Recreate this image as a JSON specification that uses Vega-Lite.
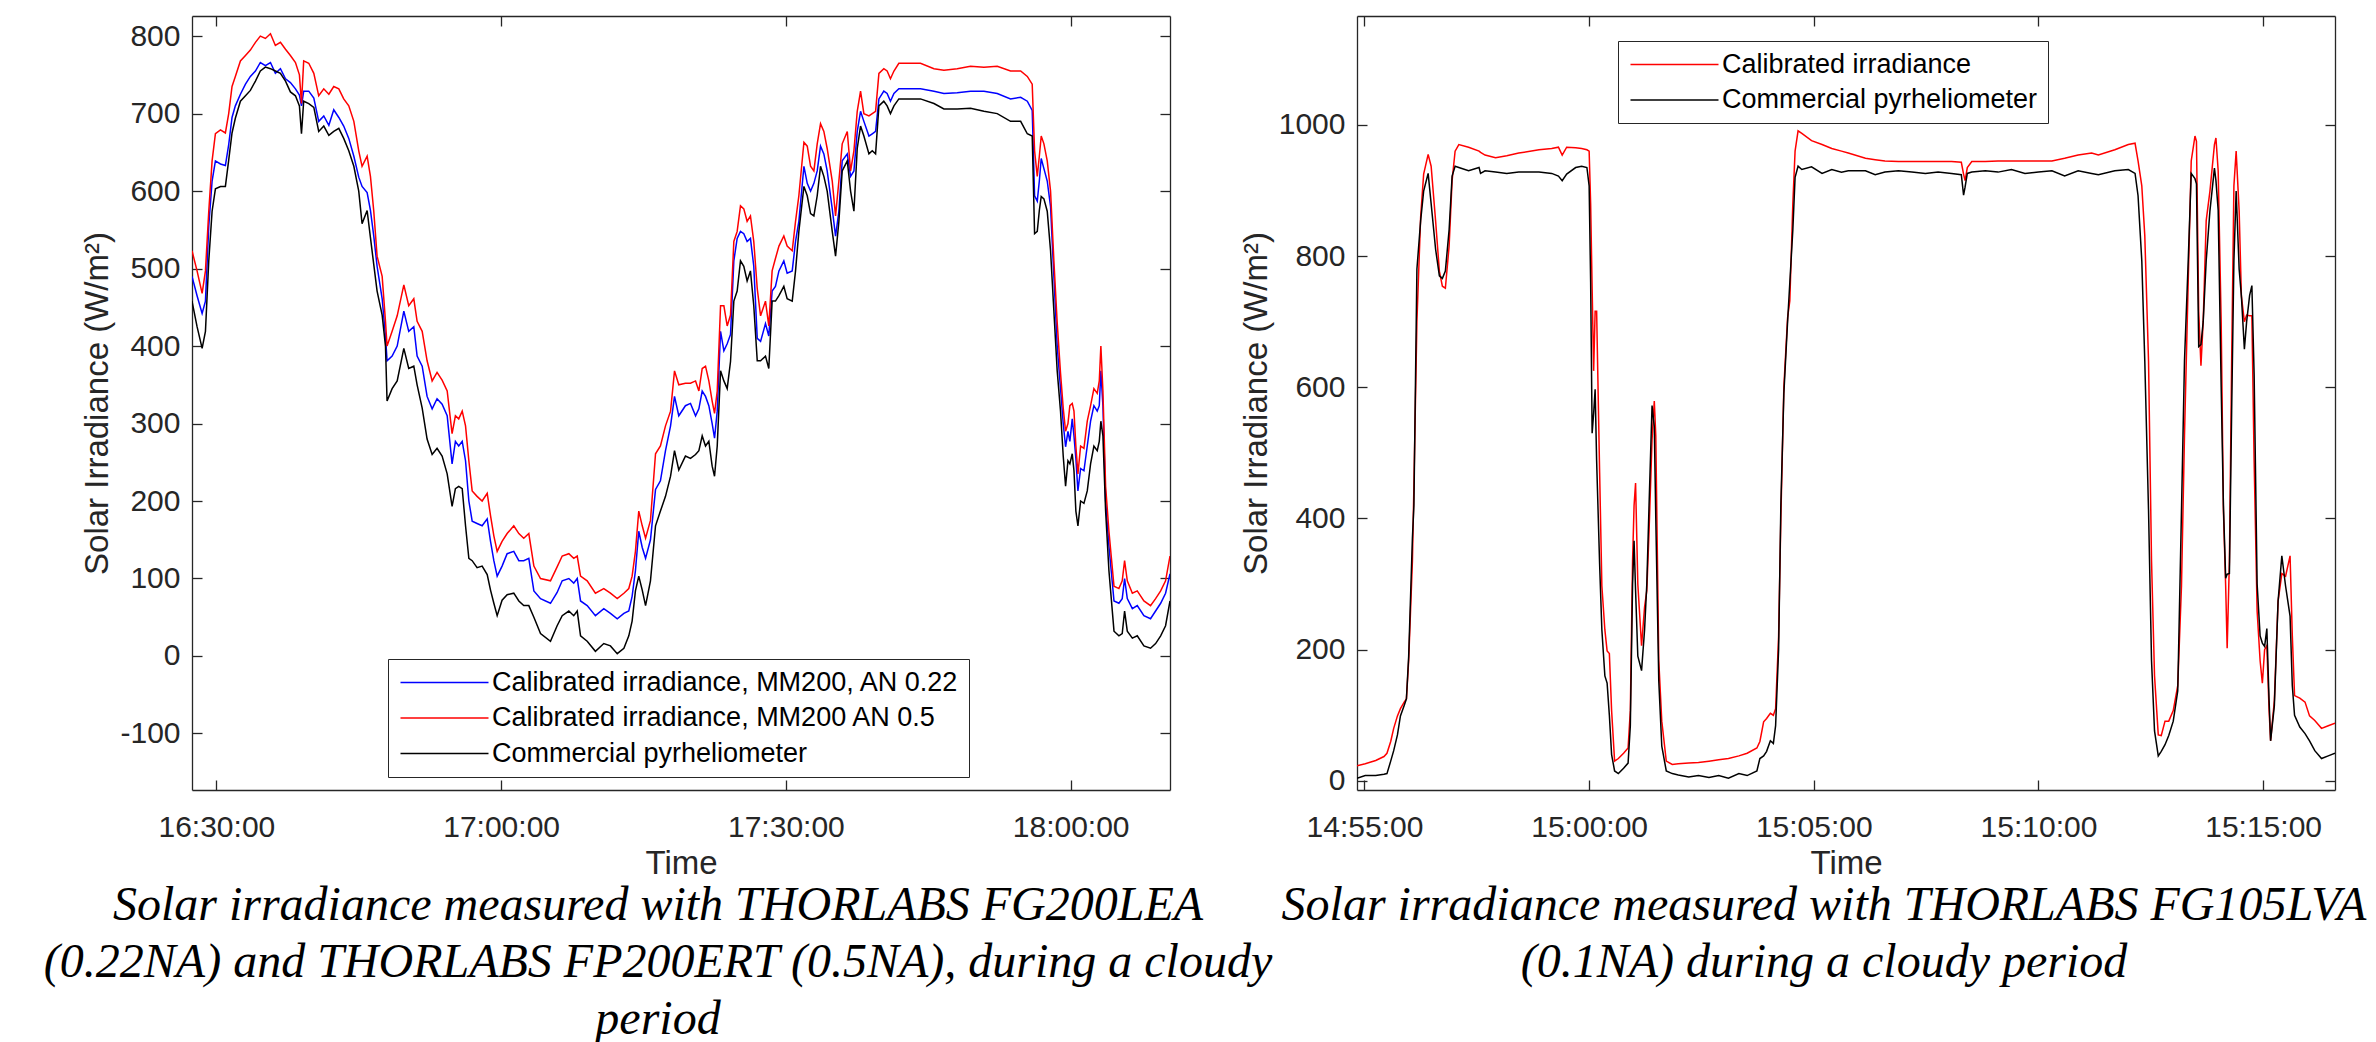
{
  "$schema": "https://vega.github.io/schema/vega-lite/v6.json",
  "background": "white",
  "padding": {"left": 43, "top": 15, "right": 5, "bottom": 0},
  "bounds": "flush",
  "spacing": 187,
  "resolve": {"scale": {"color": "independent"}, "legend": {"color": "independent"}},
  "config": {
    "view": {"stroke": null},
    "font": "Liberation Sans",
    "axis": {
      "grid": false,
      "labelFont": "Liberation Sans",
      "labelFontSize": 30,
      "labelColor": "#262626",
      "titleFont": "Liberation Sans",
      "titleFontSize": 33,
      "titleFontWeight": "normal",
      "titleColor": "#262626",
      "domainColor": "#262626",
      "domainWidth": 1.3,
      "tickColor": "#262626",
      "tickWidth": 1.3,
      "tickSize": -10,
      "labelFlush": false,
      "labelOverlap": false
    },
    "legend": {
      "labelFont": "Liberation Sans",
      "labelFontSize": 27,
      "labelColor": "black",
      "labelLimit": 1000,
      "symbolType": "M-4,0H4",
      "symbolSize": 484,
      "symbolStrokeWidth": 1.6,
      "symbolOffset": 33,
      "labelOffset": 34,
      "padding": 10,
      "rowPadding": 7.5,
      "strokeColor": "#262626",
      "fillColor": "white"
    }
  },
  "hconcat": [
    {
      "width": 978,
      "height": 774,
      "data": {
        "format": {"parse": {"t": "date:'%H:%M:%S'"}},
        "values": [
          {"t":"16:27:26","b":490,"r":523,"k":458},
          {"t":"16:27:58","b":465,"r":497,"k":425},
          {"t":"16:28:30","b":442,"r":468,"k":397},
          {"t":"16:28:51","b":458,"r":497,"k":419},
          {"t":"16:29:12","b":555,"r":574,"k":510},
          {"t":"16:29:33","b":613,"r":639,"k":574},
          {"t":"16:29:54","b":639,"r":674,"k":603},
          {"t":"16:30:26","b":635,"r":679,"k":606},
          {"t":"16:30:57","b":633,"r":675,"k":606},
          {"t":"16:31:18","b":660,"r":700,"k":640},
          {"t":"16:31:39","b":695,"r":735,"k":675},
          {"t":"16:32:00","b":710,"r":748,"k":694},
          {"t":"16:32:32","b":725,"r":768,"k":716},
          {"t":"16:33:04","b":738,"r":775,"k":723},
          {"t":"16:33:35","b":748,"r":782,"k":730},
          {"t":"16:34:07","b":755,"r":792,"k":742},
          {"t":"16:34:38","b":766,"r":800,"k":755},
          {"t":"16:35:10","b":762,"r":797,"k":760},
          {"t":"16:35:42","b":766,"r":803,"k":758},
          {"t":"16:36:13","b":752,"r":788,"k":755},
          {"t":"16:36:45","b":758,"r":792,"k":752},
          {"t":"16:37:17","b":745,"r":783,"k":742},
          {"t":"16:37:48","b":740,"r":775,"k":728},
          {"t":"16:38:20","b":732,"r":766,"k":723},
          {"t":"16:38:45","b":724,"r":750,"k":710},
          {"t":"16:38:58","b":710,"r":713,"k":674},
          {"t":"16:39:12","b":729,"r":768,"k":716},
          {"t":"16:39:44","b":729,"r":765,"k":713},
          {"t":"16:40:16","b":720,"r":752,"k":708},
          {"t":"16:40:47","b":690,"r":723,"k":677},
          {"t":"16:41:19","b":697,"r":732,"k":684},
          {"t":"16:41:51","b":685,"r":725,"k":672},
          {"t":"16:42:22","b":705,"r":735,"k":677},
          {"t":"16:42:54","b":695,"r":732,"k":681},
          {"t":"16:43:25","b":684,"r":719,"k":668},
          {"t":"16:43:57","b":668,"r":710,"k":652},
          {"t":"16:44:29","b":645,"r":690,"k":632},
          {"t":"16:45:00","b":618,"r":652,"k":600},
          {"t":"16:45:21","b":606,"r":632,"k":558},
          {"t":"16:45:53","b":598,"r":645,"k":575},
          {"t":"16:46:14","b":575,"r":619,"k":540},
          {"t":"16:46:35","b":542,"r":574,"k":505},
          {"t":"16:46:56","b":503,"r":516,"k":471},
          {"t":"16:47:28","b":461,"r":490,"k":440},
          {"t":"16:47:49","b":413,"r":432,"k":400},
          {"t":"16:47:59","b":381,"r":400,"k":329},
          {"t":"16:48:31","b":387,"r":419,"k":345},
          {"t":"16:49:03","b":400,"r":439,"k":355},
          {"t":"16:49:45","b":445,"r":479,"k":397},
          {"t":"16:50:16","b":419,"r":452,"k":371},
          {"t":"16:50:48","b":425,"r":461,"k":374},
          {"t":"16:51:09","b":387,"r":432,"k":350},
          {"t":"16:51:41","b":374,"r":419,"k":320},
          {"t":"16:52:12","b":335,"r":381,"k":280},
          {"t":"16:52:44","b":319,"r":355,"k":260},
          {"t":"16:53:15","b":332,"r":366,"k":268},
          {"t":"16:53:47","b":325,"r":356,"k":258},
          {"t":"16:54:19","b":310,"r":342,"k":235},
          {"t":"16:54:50","b":248,"r":287,"k":193},
          {"t":"16:55:11","b":277,"r":310,"k":216},
          {"t":"16:55:32","b":271,"r":306,"k":219},
          {"t":"16:55:54","b":277,"r":316,"k":216},
          {"t":"16:56:15","b":252,"r":297,"k":168},
          {"t":"16:56:36","b":200,"r":252,"k":126},
          {"t":"16:56:57","b":174,"r":213,"k":123},
          {"t":"16:57:28","b":171,"r":206,"k":114},
          {"t":"16:58:00","b":168,"r":200,"k":116},
          {"t":"16:58:32","b":177,"r":210,"k":105},
          {"t":"16:58:53","b":148,"r":181,"k":85},
          {"t":"16:59:14","b":123,"r":155,"k":68},
          {"t":"16:59:35","b":103,"r":135,"k":52},
          {"t":"17:00:06","b":116,"r":148,"k":72},
          {"t":"17:00:38","b":132,"r":158,"k":79},
          {"t":"17:01:20","b":135,"r":168,"k":81},
          {"t":"17:01:52","b":123,"r":158,"k":71},
          {"t":"17:02:23","b":123,"r":152,"k":65},
          {"t":"17:02:55","b":126,"r":158,"k":65},
          {"t":"17:03:27","b":84,"r":116,"k":50},
          {"t":"17:04:09","b":74,"r":100,"k":29},
          {"t":"17:05:12","b":68,"r":97,"k":19},
          {"t":"17:05:54","b":82,"r":115,"k":39},
          {"t":"17:06:26","b":97,"r":129,"k":52},
          {"t":"17:07:08","b":100,"r":132,"k":58},
          {"t":"17:07:39","b":94,"r":126,"k":52},
          {"t":"17:08:01","b":100,"r":129,"k":58},
          {"t":"17:08:22","b":71,"r":103,"k":26},
          {"t":"17:09:04","b":65,"r":97,"k":19},
          {"t":"17:09:56","b":52,"r":81,"k":6},
          {"t":"17:10:49","b":61,"r":87,"k":16},
          {"t":"17:11:31","b":55,"r":81,"k":13},
          {"t":"17:12:14","b":48,"r":74,"k":3},
          {"t":"17:12:56","b":55,"r":81,"k":10},
          {"t":"17:13:27","b":58,"r":87,"k":26},
          {"t":"17:13:48","b":77,"r":103,"k":45},
          {"t":"17:14:09","b":110,"r":135,"k":84},
          {"t":"17:14:30","b":161,"r":187,"k":103},
          {"t":"17:14:52","b":140,"r":168,"k":85},
          {"t":"17:15:13","b":126,"r":152,"k":65},
          {"t":"17:15:44","b":150,"r":175,"k":97},
          {"t":"17:16:16","b":215,"r":261,"k":168},
          {"t":"17:16:47","b":226,"r":271,"k":187},
          {"t":"17:17:19","b":265,"r":297,"k":206},
          {"t":"17:17:51","b":297,"r":316,"k":232},
          {"t":"17:18:16","b":335,"r":368,"k":265},
          {"t":"17:18:43","b":310,"r":350,"k":240},
          {"t":"17:19:25","b":323,"r":352,"k":258},
          {"t":"17:19:57","b":326,"r":352,"k":255},
          {"t":"17:20:29","b":310,"r":355,"k":260},
          {"t":"17:20:50","b":319,"r":342,"k":265},
          {"t":"17:21:11","b":342,"r":371,"k":284},
          {"t":"17:21:32","b":335,"r":374,"k":271},
          {"t":"17:21:53","b":323,"r":355,"k":277},
          {"t":"17:22:14","b":300,"r":329,"k":245},
          {"t":"17:22:29","b":281,"r":313,"k":232},
          {"t":"17:22:46","b":316,"r":342,"k":271},
          {"t":"17:23:07","b":419,"r":452,"k":368},
          {"t":"17:23:28","b":394,"r":452,"k":355},
          {"t":"17:23:49","b":403,"r":426,"k":345},
          {"t":"17:24:10","b":415,"r":440,"k":380},
          {"t":"17:24:31","b":510,"r":535,"k":458},
          {"t":"17:24:52","b":539,"r":548,"k":471},
          {"t":"17:25:13","b":548,"r":581,"k":510},
          {"t":"17:25:34","b":545,"r":577,"k":503},
          {"t":"17:25:55","b":535,"r":561,"k":484},
          {"t":"17:26:16","b":539,"r":568,"k":497},
          {"t":"17:26:37","b":503,"r":535,"k":452},
          {"t":"17:26:59","b":410,"r":474,"k":381},
          {"t":"17:27:20","b":406,"r":439,"k":381},
          {"t":"17:27:51","b":429,"r":458,"k":387},
          {"t":"17:28:12","b":413,"r":426,"k":371},
          {"t":"17:28:33","b":471,"r":497,"k":458},
          {"t":"17:28:54","b":477,"r":513,"k":458},
          {"t":"17:29:16","b":497,"r":529,"k":465},
          {"t":"17:29:47","b":510,"r":542,"k":477},
          {"t":"17:30:08","b":494,"r":529,"k":461},
          {"t":"17:30:40","b":497,"r":523,"k":458},
          {"t":"17:31:01","b":535,"r":561,"k":497},
          {"t":"17:31:22","b":561,"r":594,"k":548},
          {"t":"17:31:54","b":632,"r":663,"k":606},
          {"t":"17:32:15","b":610,"r":658,"k":594},
          {"t":"17:32:36","b":600,"r":632,"k":571},
          {"t":"17:32:57","b":610,"r":626,"k":568},
          {"t":"17:33:18","b":626,"r":661,"k":594},
          {"t":"17:33:39","b":658,"r":687,"k":632},
          {"t":"17:34:00","b":648,"r":677,"k":619},
          {"t":"17:34:21","b":626,"r":655,"k":600},
          {"t":"17:34:53","b":577,"r":613,"k":548},
          {"t":"17:35:14","b":542,"r":568,"k":516},
          {"t":"17:35:35","b":574,"r":613,"k":561},
          {"t":"17:35:56","b":639,"r":661,"k":626},
          {"t":"17:36:28","b":648,"r":677,"k":639},
          {"t":"17:36:49","b":619,"r":626,"k":600},
          {"t":"17:37:10","b":626,"r":652,"k":574},
          {"t":"17:37:31","b":677,"r":703,"k":655},
          {"t":"17:37:52","b":703,"r":729,"k":684},
          {"t":"17:38:13","b":690,"r":700,"k":671},
          {"t":"17:38:45","b":671,"r":697,"k":648},
          {"t":"17:39:06","b":674,"r":700,"k":652},
          {"t":"17:39:27","b":677,"r":703,"k":648},
          {"t":"17:39:48","b":719,"r":752,"k":710},
          {"t":"17:40:19","b":729,"r":758,"k":716},
          {"t":"17:40:40","b":726,"r":755,"k":710},
          {"t":"17:41:01","b":716,"r":745,"k":700},
          {"t":"17:41:23","b":726,"r":755,"k":710},
          {"t":"17:41:54","b":732,"r":765,"k":719},
          {"t":"17:42:47","b":732,"r":765,"k":719},
          {"t":"17:44:11","b":732,"r":765,"k":719},
          {"t":"17:45:36","b":729,"r":758,"k":713},
          {"t":"17:46:39","b":726,"r":756,"k":706},
          {"t":"17:48:03","b":727,"r":758,"k":706},
          {"t":"17:49:27","b":729,"r":761,"k":707},
          {"t":"17:50:52","b":729,"r":760,"k":703},
          {"t":"17:52:16","b":726,"r":761,"k":700},
          {"t":"17:53:40","b":719,"r":755,"k":690},
          {"t":"17:54:44","b":721,"r":755,"k":690},
          {"t":"17:55:26","b":716,"r":748,"k":674},
          {"t":"17:55:57","b":704,"r":738,"k":671},
          {"t":"17:56:12","b":594,"r":652,"k":545},
          {"t":"17:56:29","b":587,"r":619,"k":548},
          {"t":"17:56:42","b":613,"r":645,"k":575},
          {"t":"17:56:54","b":642,"r":671,"k":593},
          {"t":"17:57:11","b":629,"r":661,"k":590},
          {"t":"17:57:32","b":613,"r":639,"k":574},
          {"t":"17:57:53","b":580,"r":600,"k":523},
          {"t":"17:58:14","b":490,"r":510,"k":445},
          {"t":"17:58:35","b":400,"r":430,"k":368},
          {"t":"17:58:56","b":345,"r":365,"k":316},
          {"t":"17:59:13","b":300,"r":320,"k":258},
          {"t":"17:59:28","b":270,"r":290,"k":219},
          {"t":"17:59:43","b":290,"r":300,"k":252},
          {"t":"17:59:55","b":277,"r":323,"k":248},
          {"t":"18:00:10","b":306,"r":326,"k":261},
          {"t":"18:00:21","b":284,"r":316,"k":239},
          {"t":"18:00:33","b":255,"r":271,"k":187},
          {"t":"18:00:46","b":213,"r":235,"k":168},
          {"t":"18:01:03","b":242,"r":271,"k":200},
          {"t":"18:01:24","b":239,"r":268,"k":197},
          {"t":"18:01:45","b":271,"r":303,"k":213},
          {"t":"18:02:06","b":303,"r":323,"k":248},
          {"t":"18:02:27","b":323,"r":345,"k":271},
          {"t":"18:02:48","b":316,"r":339,"k":265},
          {"t":"18:03:01","b":323,"r":355,"k":277},
          {"t":"18:03:11","b":368,"r":400,"k":303},
          {"t":"18:03:24","b":323,"r":342,"k":284},
          {"t":"18:03:41","b":200,"r":219,"k":187},
          {"t":"18:04:02","b":142,"r":161,"k":110},
          {"t":"18:04:34","b":71,"r":90,"k":32},
          {"t":"18:05:05","b":68,"r":87,"k":26},
          {"t":"18:05:26","b":74,"r":97,"k":29},
          {"t":"18:05:41","b":100,"r":123,"k":58},
          {"t":"18:05:58","b":74,"r":97,"k":32},
          {"t":"18:06:30","b":61,"r":81,"k":23},
          {"t":"18:07:01","b":65,"r":84,"k":26},
          {"t":"18:07:43","b":52,"r":71,"k":13},
          {"t":"18:08:25","b":48,"r":65,"k":10},
          {"t":"18:08:57","b":58,"r":74,"k":16},
          {"t":"18:09:29","b":68,"r":84,"k":26},
          {"t":"18:10:00","b":81,"r":97,"k":39},
          {"t":"18:10:28","b":106,"r":129,"k":71}
        ]
      },
      "transform": [{"fold": ["b", "r", "k"], "as": ["s", "v"]}],
      "title": {
        "text": ["Solar irradiance measured with THORLABS FG200LEA", "(0.22NA) and THORLABS FP200ERT (0.5NA), during a cloudy", "period"],
        "orient": "bottom",
        "anchor": "middle",
        "frame": "group",
        "font": "Liberation Serif",
        "fontStyle": "italic",
        "fontWeight": "normal",
        "fontSize": 48,
        "lineHeight": 57,
        "color": "black",
        "offset": 2,
        "dx": -23
      },
      "layer": [
        {
          "mark": {"type": "line", "strokeWidth": 1.5, "clip": true},
          "encoding": {
            "x": {
              "field": "t", "type": "temporal",
              "scale": {"domain": [{"year":1900,"month":1,"date":1,"hours":16,"minutes":27,"seconds":26},{"year":1900,"month":1,"date":1,"hours":18,"minutes":10,"seconds":28}], "nice": false},
              "axis": {"orient": "bottom", "title": "Time", "format": "%H:%M:%S", "labelPadding": 32, "titlePadding": 5,
                "values": [{"year":1900,"month":1,"date":1,"hours":16,"minutes":30},{"year":1900,"month":1,"date":1,"hours":17,"minutes":0},{"year":1900,"month":1,"date":1,"hours":17,"minutes":30},{"year":1900,"month":1,"date":1,"hours":18,"minutes":0}]}
            },
            "y": {
              "field": "v", "type": "quantitative",
              "scale": {"domain": [-173, 826], "nice": false, "zero": false},
              "axis": {"orient": "left", "title": "Solar Irradiance (W/m²)", "labelPadding": 22, "titlePadding": 5,
                "labelExpr": "'' + datum.value",
                "values": [-100, 0, 100, 200, 300, 400, 500, 600, 700, 800]}
            },
            "color": {
              "field": "s", "type": "nominal",
              "scale": {"domain": ["b", "r", "k"], "range": ["#0000ff", "#ff0000", "#000000"]},
              "legend": {
                "orient": "none", "legendX": 196, "legendY": 643, "title": null,
                "labelExpr": "datum.label == 'b' ? 'Calibrated irradiance, MM200, AN 0.22' : datum.label == 'r' ? 'Calibrated irradiance, MM200 AN 0.5' : 'Commercial pyrheliometer'"
              }
            }
          }
        },
        {
          "mark": {"type": "line", "opacity": 0},
          "encoding": {
            "x": {
              "field": "t", "type": "temporal",
              "axis": {"orient": "top", "labels": false, "title": null,
                "values": [{"year":1900,"month":1,"date":1,"hours":16,"minutes":30},{"year":1900,"month":1,"date":1,"hours":17,"minutes":0},{"year":1900,"month":1,"date":1,"hours":17,"minutes":30},{"year":1900,"month":1,"date":1,"hours":18,"minutes":0}]}
            },
            "y": {
              "field": "v", "type": "quantitative",
              "axis": {"orient": "right", "labels": false, "title": null,
                "values": [-100, 0, 100, 200, 300, 400, 500, 600, 700, 800]}
            },
            "detail": {"field": "s", "type": "nominal"}
          }
        }
      ],
      "resolve": {"axis": {"x": "independent", "y": "independent"}}
    },
    {
      "width": 978,
      "height": 774,
      "data": {
        "format": {"parse": {"t": "date:'%H:%M:%S'"}},
        "values": [
          {"t":"14:54:50","r":23,"k":4},
          {"t":"14:55:01","r":26,"k":8},
          {"t":"14:55:15","r":31,"k":8},
          {"t":"14:55:26","r":37,"k":10},
          {"t":"14:55:30","r":42,"k":11},
          {"t":"14:55:35","r":60,"k":30},
          {"t":"14:55:39","r":80,"k":46},
          {"t":"14:55:44","r":99,"k":70},
          {"t":"14:55:48","r":110,"k":99},
          {"t":"14:55:53","r":120,"k":115},
          {"t":"14:55:56","r":125,"k":125},
          {"t":"14:55:59","r":183,"k":190},
          {"t":"14:56:04","r":335,"k":370},
          {"t":"14:56:06","r":450,"k":420},
          {"t":"14:56:10","r":700,"k":780},
          {"t":"14:56:15","r":860,"k":854},
          {"t":"14:56:19","r":925,"k":899},
          {"t":"14:56:25","r":955,"k":926},
          {"t":"14:56:29","r":937,"k":880},
          {"t":"14:56:35","r":853,"k":810},
          {"t":"14:56:40","r":777,"k":770},
          {"t":"14:56:44","r":754,"k":766},
          {"t":"14:56:48","r":751,"k":777},
          {"t":"14:56:53","r":815,"k":840},
          {"t":"14:56:57","r":915,"k":922},
          {"t":"14:57:01","r":960,"k":937},
          {"t":"14:57:06","r":970,"k":935},
          {"t":"14:57:19","r":966,"k":930},
          {"t":"14:57:33","r":960,"k":935},
          {"t":"14:57:35","r":958,"k":926},
          {"t":"14:57:41","r":954,"k":930},
          {"t":"14:57:55","r":950,"k":928},
          {"t":"14:58:10","r":953,"k":926},
          {"t":"14:58:26","r":957,"k":928},
          {"t":"14:58:53","r":962,"k":928},
          {"t":"14:59:10","r":964,"k":926},
          {"t":"14:59:19","r":966,"k":922},
          {"t":"14:59:24","r":954,"k":915},
          {"t":"14:59:30","r":966,"k":925},
          {"t":"14:59:42","r":965,"k":935},
          {"t":"14:59:50","r":964,"k":937},
          {"t":"14:59:57","r":962,"k":935},
          {"t":"15:00:00","r":960,"k":907},
          {"t":"15:00:02","r":880,"k":760},
          {"t":"15:00:04","r":750,"k":530},
          {"t":"15:00:06","r":625,"k":560},
          {"t":"15:00:08","r":716,"k":597},
          {"t":"15:00:10","r":716,"k":488},
          {"t":"15:00:14","r":470,"k":330},
          {"t":"15:00:17","r":297,"k":230},
          {"t":"15:00:21","r":230,"k":160},
          {"t":"15:00:24","r":198,"k":149},
          {"t":"15:00:27","r":194,"k":100},
          {"t":"15:00:30","r":107,"k":40},
          {"t":"15:00:34","r":30,"k":15},
          {"t":"15:00:39","r":34,"k":11},
          {"t":"15:00:46","r":42,"k":19},
          {"t":"15:00:52","r":50,"k":27},
          {"t":"15:00:55","r":107,"k":84},
          {"t":"15:00:58","r":335,"k":300},
          {"t":"15:01:00","r":420,"k":366},
          {"t":"15:01:02","r":454,"k":290},
          {"t":"15:01:05","r":300,"k":190},
          {"t":"15:01:10","r":206,"k":168},
          {"t":"15:01:14","r":265,"k":230},
          {"t":"15:01:17","r":290,"k":300},
          {"t":"15:01:20","r":380,"k":420},
          {"t":"15:01:24","r":520,"k":572},
          {"t":"15:01:27","r":579,"k":540},
          {"t":"15:01:29","r":526,"k":400},
          {"t":"15:01:33","r":183,"k":152},
          {"t":"15:01:37","r":91,"k":53},
          {"t":"15:01:43","r":30,"k":15},
          {"t":"15:01:51","r":25,"k":11},
          {"t":"15:01:59","r":26,"k":9},
          {"t":"15:02:13","r":27,"k":6},
          {"t":"15:02:26","r":28,"k":8},
          {"t":"15:02:40","r":30,"k":5},
          {"t":"15:02:53","r":32,"k":8},
          {"t":"15:03:06","r":34,"k":4},
          {"t":"15:03:20","r":38,"k":11},
          {"t":"15:03:31","r":42,"k":8},
          {"t":"15:03:44","r":50,"k":15},
          {"t":"15:03:48","r":60,"k":34},
          {"t":"15:03:53","r":90,"k":38},
          {"t":"15:03:57","r":95,"k":45},
          {"t":"15:04:02","r":103,"k":61},
          {"t":"15:04:06","r":100,"k":57},
          {"t":"15:04:09","r":110,"k":84},
          {"t":"15:04:13","r":220,"k":200},
          {"t":"15:04:16","r":400,"k":420},
          {"t":"15:04:20","r":600,"k":590},
          {"t":"15:04:25","r":706,"k":700},
          {"t":"15:04:28","r":732,"k":760},
          {"t":"15:04:32","r":880,"k":840},
          {"t":"15:04:35","r":960,"k":920},
          {"t":"15:04:39","r":991,"k":937},
          {"t":"15:04:44","r":987,"k":932},
          {"t":"15:04:57","r":976,"k":936},
          {"t":"15:05:11","r":970,"k":926},
          {"t":"15:05:24","r":964,"k":932},
          {"t":"15:05:37","r":960,"k":928},
          {"t":"15:05:46","r":957,"k":930},
          {"t":"15:06:09","r":949,"k":930},
          {"t":"15:06:22","r":947,"k":924},
          {"t":"15:06:35","r":945,"k":928},
          {"t":"15:06:53","r":944,"k":930},
          {"t":"15:07:11","r":944,"k":928},
          {"t":"15:07:29","r":944,"k":926},
          {"t":"15:07:46","r":944,"k":928},
          {"t":"15:08:04","r":944,"k":926},
          {"t":"15:08:17","r":943,"k":924},
          {"t":"15:08:20","r":925,"k":893},
          {"t":"15:08:22","r":915,"k":905},
          {"t":"15:08:25","r":935,"k":926},
          {"t":"15:08:31","r":944,"k":928},
          {"t":"15:08:49","r":944,"k":930},
          {"t":"15:09:06","r":945,"k":928},
          {"t":"15:09:24","r":945,"k":932},
          {"t":"15:09:42","r":945,"k":926},
          {"t":"15:10:00","r":945,"k":928},
          {"t":"15:10:18","r":945,"k":930},
          {"t":"15:10:35","r":949,"k":922},
          {"t":"15:10:53","r":954,"k":930},
          {"t":"15:11:11","r":957,"k":926},
          {"t":"15:11:20","r":954,"k":924},
          {"t":"15:11:42","r":962,"k":930},
          {"t":"15:12:00","r":970,"k":932},
          {"t":"15:12:09","r":972,"k":926},
          {"t":"15:12:13","r":945,"k":892},
          {"t":"15:12:18","r":907,"k":793},
          {"t":"15:12:22","r":831,"k":640},
          {"t":"15:12:27","r":640,"k":412},
          {"t":"15:12:31","r":335,"k":183},
          {"t":"15:12:35","r":160,"k":76},
          {"t":"15:12:40","r":70,"k":38},
          {"t":"15:12:44","r":69,"k":45},
          {"t":"15:12:49","r":91,"k":55},
          {"t":"15:12:54","r":91,"k":69},
          {"t":"15:13:00","r":107,"k":91},
          {"t":"15:13:06","r":145,"k":137},
          {"t":"15:13:11","r":297,"k":412},
          {"t":"15:13:15","r":526,"k":640},
          {"t":"15:13:20","r":762,"k":793},
          {"t":"15:13:24","r":945,"k":926},
          {"t":"15:13:29","r":983,"k":918},
          {"t":"15:13:31","r":975,"k":910},
          {"t":"15:13:34","r":716,"k":662},
          {"t":"15:13:37","r":633,"k":665},
          {"t":"15:13:40","r":701,"k":700},
          {"t":"15:13:44","r":854,"k":793},
          {"t":"15:13:49","r":899,"k":869},
          {"t":"15:13:55","r":970,"k":934},
          {"t":"15:13:57","r":980,"k":915},
          {"t":"15:14:00","r":930,"k":870},
          {"t":"15:14:04","r":700,"k":600},
          {"t":"15:14:07","r":412,"k":420},
          {"t":"15:14:10","r":297,"k":309},
          {"t":"15:14:12","r":202,"k":315},
          {"t":"15:14:15","r":335,"k":316},
          {"t":"15:14:18","r":640,"k":564},
          {"t":"15:14:21","r":907,"k":793},
          {"t":"15:14:24","r":960,"k":899},
          {"t":"15:14:28","r":869,"k":780},
          {"t":"15:14:31","r":739,"k":739},
          {"t":"15:14:35","r":700,"k":658},
          {"t":"15:14:38","r":710,"k":700},
          {"t":"15:14:42","r":709,"k":740},
          {"t":"15:14:45","r":709,"k":755},
          {"t":"15:14:48","r":488,"k":620},
          {"t":"15:14:52","r":259,"k":300},
          {"t":"15:14:56","r":183,"k":221},
          {"t":"15:14:59","r":149,"k":210},
          {"t":"15:15:02","r":200,"k":205},
          {"t":"15:15:05","r":206,"k":232},
          {"t":"15:15:08","r":107,"k":122},
          {"t":"15:15:10","r":61,"k":61},
          {"t":"15:15:15","r":122,"k":114},
          {"t":"15:15:20","r":274,"k":274},
          {"t":"15:15:25","r":316,"k":343},
          {"t":"15:15:30","r":312,"k":297},
          {"t":"15:15:36","r":343,"k":251},
          {"t":"15:15:39","r":221,"k":145},
          {"t":"15:15:42","r":130,"k":100},
          {"t":"15:15:49","r":126,"k":82},
          {"t":"15:15:56","r":120,"k":72},
          {"t":"15:16:02","r":99,"k":61},
          {"t":"15:16:09","r":92,"k":46},
          {"t":"15:16:18","r":80,"k":34},
          {"t":"15:16:27","r":84,"k":38},
          {"t":"15:16:36","r":88,"k":42}
        ]
      },
      "transform": [{"fold": ["r", "k"], "as": ["s", "v"]}],
      "title": {
        "text": ["Solar irradiance measured with THORLABS FG105LVA", "(0.1NA) during a cloudy period"],
        "orient": "bottom",
        "anchor": "middle",
        "frame": "group",
        "font": "Liberation Serif",
        "fontStyle": "italic",
        "fontWeight": "normal",
        "fontSize": 48,
        "lineHeight": 57,
        "color": "black",
        "offset": 2,
        "dx": -22
      },
      "layer": [
        {
          "mark": {"type": "line", "strokeWidth": 1.5, "clip": true},
          "encoding": {
            "x": {
              "field": "t", "type": "temporal",
              "scale": {"domain": [{"year":1900,"month":1,"date":1,"hours":14,"minutes":54,"seconds":50},{"year":1900,"month":1,"date":1,"hours":15,"minutes":16,"seconds":36}], "nice": false},
              "axis": {"orient": "bottom", "title": "Time", "format": "%H:%M:%S", "labelPadding": 32, "titlePadding": 5,
                "values": [{"year":1900,"month":1,"date":1,"hours":14,"minutes":55},{"year":1900,"month":1,"date":1,"hours":15,"minutes":0},{"year":1900,"month":1,"date":1,"hours":15,"minutes":5},{"year":1900,"month":1,"date":1,"hours":15,"minutes":10},{"year":1900,"month":1,"date":1,"hours":15,"minutes":15}]}
            },
            "y": {
              "field": "v", "type": "quantitative",
              "scale": {"domain": [-14, 1166], "nice": false, "zero": false},
              "axis": {"orient": "left", "title": "Solar Irradiance (W/m²)", "labelPadding": 22, "titlePadding": 5,
                "labelExpr": "'' + datum.value",
                "values": [0, 200, 400, 600, 800, 1000]}
            },
            "color": {
              "field": "s", "type": "nominal",
              "scale": {"domain": ["r", "k"], "range": ["#ff0000", "#000000"]},
              "legend": {
                "orient": "none", "legendX": 261, "legendY": 25, "title": null,
                "labelExpr": "datum.label == 'r' ? 'Calibrated irradiance' : 'Commercial pyrheliometer'"
              }
            }
          }
        },
        {
          "mark": {"type": "line", "opacity": 0},
          "encoding": {
            "x": {
              "field": "t", "type": "temporal",
              "axis": {"orient": "top", "labels": false, "title": null,
                "values": [{"year":1900,"month":1,"date":1,"hours":14,"minutes":55},{"year":1900,"month":1,"date":1,"hours":15,"minutes":0},{"year":1900,"month":1,"date":1,"hours":15,"minutes":5},{"year":1900,"month":1,"date":1,"hours":15,"minutes":10},{"year":1900,"month":1,"date":1,"hours":15,"minutes":15}]}
            },
            "y": {
              "field": "v", "type": "quantitative",
              "axis": {"orient": "right", "labels": false, "title": null,
                "values": [0, 200, 400, 600, 800, 1000]}
            },
            "detail": {"field": "s", "type": "nominal"}
          }
        }
      ],
      "resolve": {"axis": {"x": "independent", "y": "independent"}}
    }
  ]
}
